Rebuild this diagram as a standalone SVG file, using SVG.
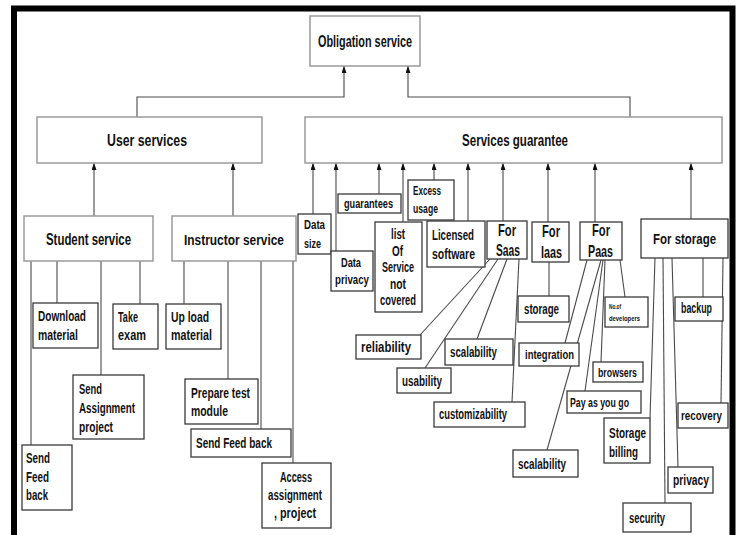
<svg xmlns="http://www.w3.org/2000/svg" width="738" height="535" viewBox="0 0 738 535">
<style>
.b{fill:#fff;stroke:#3a3a3a;stroke-width:1.3}
.B{fill:#fff;stroke:#9a9a9a;stroke-width:1.5}
.c{stroke:#4a4a4a;stroke-width:1.1;fill:none}
.a{marker-end:url(#ah)}
text{font-family:'Liberation Sans Narrow','Liberation Sans',Arial,sans-serif;font-weight:bold;fill:#111;font-size:14.5px}
.h{font-size:17px}
.m{font-size:15.5px}
.s{font-size:13.5px}
.xs{font-size:13px}
.hs{font-size:15.5px}
.t{font-size:8px}
</style>
<defs>
<marker id="ah" viewBox="0 0 7 5" refX="7" refY="2.5" markerWidth="7" markerHeight="5" markerUnits="userSpaceOnUse" orient="auto">
<path d="M0,0 L7,2.5 L0,5 z" fill="#111"/>
</marker>
</defs>
<rect width="738" height="535" fill="#fff"/>
<path d="M14,535 V8.5 H732.5 V535" fill="none" stroke="#000" stroke-width="6"/>

<g id="connectors">
<path class="c a" d="M137,117 V97 H344 V66"/>
<path class="c a" d="M630,117 V97 H408 V66"/>
<path class="c a" d="M94,216 V163"/>
<path class="c a" d="M233,216 V163"/>
<path class="c" d="M31,261 V445"/>
<path class="c" d="M57,261 V303"/>
<path class="c" d="M101,261 V375"/>
<path class="c" d="M140,261 V304"/>
<path class="c" d="M184,261 V304"/>
<path class="c" d="M228,261 V379"/>
<path class="c" d="M261,261 V429"/>
<path class="c" d="M293,261 V463"/>
<path class="c a" d="M313,214 V163"/>
<path class="c a" d="M336,251 V163"/>
<path class="c a" d="M379,194 V163"/>
<path class="c a" d="M403,222 V163"/>
<path class="c a" d="M434,180 V163"/>
<path class="c a" d="M468,221 V163"/>
<path class="c a" d="M503,221 V163"/>
<path class="c a" d="M548,222 V163"/>
<path class="c a" d="M595,222 V163"/>
<path class="c a" d="M691,219 V163"/>
<path class="c" d="M490,259 L420,335"/>
<path class="c" d="M498,259 L425,368"/>
<path class="c" d="M507,259 L477,339"/>
<path class="c" d="M519,259 L512,402"/>
<path class="c" d="M549,262 V296"/>
<path class="c" d="M620,260 L625,297"/>
<path class="c" d="M587,260 L565,343"/>
<path class="c" d="M601,260 L547,450"/>
<path class="c" d="M603,260 L585,391"/>
<path class="c" d="M605,260 L601,362"/>
<path class="c" d="M703,258 V297"/>
<path class="c" d="M723,258 L721,403"/>
<path class="c" d="M655,258 L650,418"/>
<path class="c" d="M672,258 L678,467"/>
<path class="c" d="M663,258 L665,503"/>
</g>

<g id="obligation"><rect class="B" x="310" y="16" width="110" height="50"/><text class="h" x="318" y="47" textLength="94" lengthAdjust="spacingAndGlyphs">Obligation service</text></g>
<g id="user-services"><rect class="B" x="37" y="117" width="225" height="46"/><text class="h" x="107" y="146" textLength="80" lengthAdjust="spacingAndGlyphs">User services</text></g>
<g id="services-guarantee"><rect class="B" x="305" y="117" width="417" height="46"/><text class="h" x="462" y="146" textLength="106" lengthAdjust="spacingAndGlyphs">Services guarantee</text></g>

<g id="student-service"><rect class="B" x="24" y="216" width="129" height="45"/><text class="h" x="46" y="245" textLength="85" lengthAdjust="spacingAndGlyphs">Student service</text></g>
<g id="instructor-service"><rect class="B" x="172" y="216" width="124" height="45"/><text class="hs" x="184" y="245" textLength="100" lengthAdjust="spacingAndGlyphs">Instructor service</text></g>

<g id="download-material"><rect class="b" x="33" y="303" width="65" height="45"/><text x="38" y="321" textLength="48" lengthAdjust="spacingAndGlyphs">Download</text><text x="38" y="340" textLength="40" lengthAdjust="spacingAndGlyphs">material</text></g>
<g id="take-exam"><rect class="b" x="113" y="304" width="45" height="45"/><text x="118" y="322" textLength="20" lengthAdjust="spacingAndGlyphs">Take</text><text x="118" y="340" textLength="28" lengthAdjust="spacingAndGlyphs">exam</text></g>
<g id="send-assignment"><rect class="b" x="73" y="375" width="71" height="64"/><text x="79" y="394" textLength="23" lengthAdjust="spacingAndGlyphs">Send</text><text x="79" y="413" textLength="56" lengthAdjust="spacingAndGlyphs">Assignment</text><text x="79" y="432" textLength="34" lengthAdjust="spacingAndGlyphs">project</text></g>
<g id="student-feedback"><rect class="b" x="22" y="445" width="50" height="65"/><text x="26" y="463" textLength="24" lengthAdjust="spacingAndGlyphs">Send</text><text x="26" y="482" textLength="23" lengthAdjust="spacingAndGlyphs">Feed</text><text x="26" y="500" textLength="22" lengthAdjust="spacingAndGlyphs">back</text></g>

<g id="upload-material"><rect class="b" x="166" y="304" width="55" height="45"/><text x="171" y="322" textLength="38" lengthAdjust="spacingAndGlyphs">Up load</text><text x="171" y="340" textLength="41" lengthAdjust="spacingAndGlyphs">material</text></g>
<g id="prepare-test"><rect class="b" x="185" y="379" width="73" height="45"/><text x="191" y="398" textLength="59" lengthAdjust="spacingAndGlyphs">Prepare test</text><text x="191" y="416" textLength="37" lengthAdjust="spacingAndGlyphs">module</text></g>
<g id="instructor-feedback"><rect class="b" x="191" y="429" width="100" height="28"/><text x="196" y="448" textLength="76" lengthAdjust="spacingAndGlyphs">Send Feed back</text></g>
<g id="access-assignment"><rect class="b" x="262" y="463" width="69" height="65"/><text x="280" y="482" textLength="32" lengthAdjust="spacingAndGlyphs">Access</text><text x="268" y="500" textLength="54" lengthAdjust="spacingAndGlyphs">assignment</text><text x="274" y="518" textLength="42" lengthAdjust="spacingAndGlyphs">, project</text></g>

<g id="data-size"><rect class="b" x="298" y="214" width="33" height="40"/><text class="xs" x="304" y="229" textLength="21" lengthAdjust="spacingAndGlyphs">Data</text><text class="xs" x="304" y="247.5" textLength="17" lengthAdjust="spacingAndGlyphs">size</text></g>
<g id="data-privacy"><rect class="b" x="331" y="251" width="42" height="40"/><text class="s" x="341" y="267" textLength="20" lengthAdjust="spacingAndGlyphs">Data</text><text class="s" x="335" y="284" textLength="34" lengthAdjust="spacingAndGlyphs">privacy</text></g>
<g id="guarantees"><rect class="b" x="338" y="194" width="63" height="19"/><text class="s" x="344" y="208" textLength="49" lengthAdjust="spacingAndGlyphs">guarantees</text></g>
<g id="list-not-covered"><rect class="b" x="375" y="222" width="47" height="90"/><text x="391" y="239" textLength="14" lengthAdjust="spacingAndGlyphs">list</text><text x="392" y="256" textLength="11" lengthAdjust="spacingAndGlyphs">Of</text><text x="382" y="272" textLength="32" lengthAdjust="spacingAndGlyphs">Service</text><text x="390" y="289" textLength="16" lengthAdjust="spacingAndGlyphs">not</text><text x="380" y="305" textLength="36" lengthAdjust="spacingAndGlyphs">covered</text></g>
<g id="excess-usage"><rect class="b" x="408" y="180" width="46" height="40"/><text class="s" x="413" y="195" textLength="28" lengthAdjust="spacingAndGlyphs">Excess</text><text class="s" x="413" y="213" textLength="25" lengthAdjust="spacingAndGlyphs">usage</text></g>
<g id="licensed-software"><rect class="b" x="427" y="221" width="58" height="46"/><text class="m" x="432" y="240" textLength="42" lengthAdjust="spacingAndGlyphs">Licensed</text><text class="m" x="432" y="259" textLength="43" lengthAdjust="spacingAndGlyphs">software</text></g>

<g id="for-saas"><rect class="b" x="487" y="221" width="40" height="38"/><text class="h" x="498" y="236" textLength="18" lengthAdjust="spacingAndGlyphs">For</text><text class="h" x="496" y="256" textLength="24" lengthAdjust="spacingAndGlyphs">Saas</text></g>
<g id="for-iaas"><rect class="b" x="532" y="222" width="37" height="40"/><text class="h" x="542" y="237" textLength="18" lengthAdjust="spacingAndGlyphs">For</text><text class="h" x="541" y="258" textLength="21" lengthAdjust="spacingAndGlyphs">Iaas</text></g>
<g id="for-paas"><rect class="b" x="580" y="222" width="42" height="38"/><text class="h" x="592" y="236" textLength="18" lengthAdjust="spacingAndGlyphs">For</text><text class="h" x="588" y="257" textLength="25" lengthAdjust="spacingAndGlyphs">Paas</text></g>
<g id="for-storage"><rect class="b" x="641" y="219" width="87" height="39"/><text class="hs" x="653" y="244" textLength="63" lengthAdjust="spacingAndGlyphs">For storage</text></g>

<g id="reliability"><rect class="b" x="356" y="335" width="65" height="24"/><text x="361" y="352" textLength="50" lengthAdjust="spacingAndGlyphs">reliability</text></g>
<g id="saas-scalability"><rect class="b" x="445" y="339" width="68" height="26"/><text x="450" y="357" textLength="47" lengthAdjust="spacingAndGlyphs">scalability</text></g>
<g id="usability"><rect class="b" x="397" y="368" width="54" height="25"/><text x="402" y="386" textLength="40" lengthAdjust="spacingAndGlyphs">usability</text></g>
<g id="customizability"><rect class="b" x="434" y="402" width="91" height="25"/><text x="439" y="419" textLength="68" lengthAdjust="spacingAndGlyphs">customizability</text></g>

<g id="iaas-storage"><rect class="b" x="518" y="296" width="51" height="26"/><text x="524" y="314" textLength="35" lengthAdjust="spacingAndGlyphs">storage</text></g>

<g id="no-of-developers"><rect class="b" x="605" y="297" width="43" height="30"/><text class="t" x="609" y="309" textLength="12" lengthAdjust="spacingAndGlyphs">No.of</text><text class="t" x="609" y="321" textLength="31" lengthAdjust="spacingAndGlyphs">developers</text></g>
<g id="integration"><rect class="b" x="519" y="343" width="60" height="23"/><text class="s" x="525" y="359" textLength="49" lengthAdjust="spacingAndGlyphs">integration</text></g>
<g id="browsers"><rect class="b" x="593" y="362" width="50" height="20"/><text class="s" x="598" y="377" textLength="39" lengthAdjust="spacingAndGlyphs">browsers</text></g>
<g id="pay-as-you-go"><rect class="b" x="567" y="391" width="74" height="22"/><text class="s" x="570" y="407" textLength="59" lengthAdjust="spacingAndGlyphs">Pay as you go</text></g>
<g id="paas-scalability"><rect class="b" x="513" y="450" width="65" height="27"/><text x="518" y="469" textLength="48" lengthAdjust="spacingAndGlyphs">scalability</text></g>

<g id="backup"><rect class="b" x="675" y="297" width="48" height="24"/><text x="681" y="313" textLength="31" lengthAdjust="spacingAndGlyphs">backup</text></g>
<g id="recovery"><rect class="b" x="678" y="403" width="50" height="25"/><text class="s" x="681" y="420" textLength="41" lengthAdjust="spacingAndGlyphs">recovery</text></g>
<g id="storage-billing"><rect class="b" x="604" y="418" width="46" height="45"/><text x="609" y="438" textLength="37" lengthAdjust="spacingAndGlyphs">Storage</text><text x="609" y="457" textLength="29" lengthAdjust="spacingAndGlyphs">billing</text></g>
<g id="privacy"><rect class="b" x="668" y="467" width="45" height="26"/><text x="673" y="485" textLength="36" lengthAdjust="spacingAndGlyphs">privacy</text></g>
<g id="security"><rect class="b" x="623" y="503" width="68" height="29"/><text x="629" y="523" textLength="36" lengthAdjust="spacingAndGlyphs">security</text></g>
</svg>
